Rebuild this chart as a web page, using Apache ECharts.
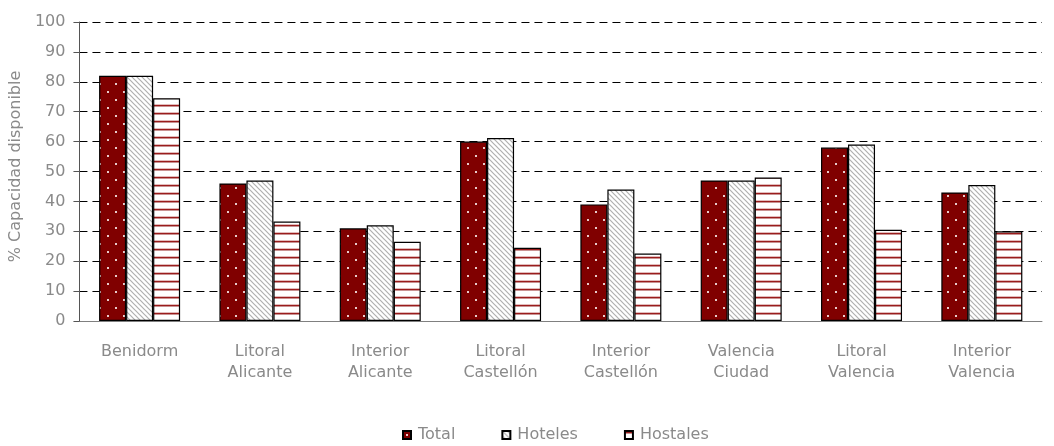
<!DOCTYPE html>
<html>
<head>
<meta charset="utf-8">
<style>
  html, body { margin: 0; padding: 0; background: #fff; }
  #chart { width: 1054px; height: 446px; }
</style>
<script src="https://cdn.jsdelivr.net/npm/echarts@6/dist/echarts.min.js"></script>
</head>
<body>
<div id="chart"></div>
<script>
// Zones and their share of available capacity (%)
const categories = [
  'Benidorm',
  'Litoral\nAlicante',
  'Interior\nAlicante',
  'Litoral\nCastellón',
  'Interior\nCastellón',
  'Valencia\nCiudad',
  'Litoral\nValencia',
  'Interior\nValencia'
];
const totalValues    = [82, 46, 31, 60, 39, 47, 58, 43];
const hotelesValues  = [82, 47, 32, 61.2, 44, 47, 59, 45.5];
const hostalesValues = [74.5, 33.3, 26.5, 24.5, 22.6, 48, 30.5, 30];
const seriesNames = ['Total', 'Hoteles', 'Hostales'];
const yTicks = { min: 0, max: 100, interval: 10 };

// Fill patterns drawn on small canvases and tiled over the bars
function makeTile(w, h, draw) {
  const c = document.createElement('canvas');
  c.width = w; c.height = h;
  draw(c.getContext('2d'));
  return { image: c, repeat: 'repeat' };
}

const dottedRed = makeTile(16, 16, ctx => {
  ctx.fillStyle = '#800000';
  ctx.fillRect(0, 0, 16, 16);
  ctx.fillStyle = '#e8cccc';
  ctx.fillRect(3, 3, 2, 2);
  ctx.fillRect(11, 11, 2, 2);
});

const diagonalGray = makeTile(5, 5, ctx => {
  ctx.fillStyle = '#ffffff';
  ctx.fillRect(0, 0, 5, 5);
  ctx.strokeStyle = '#b0b0b0';
  ctx.lineWidth = 1.2;
  ctx.beginPath();
  ctx.moveTo(-1, -1); ctx.lineTo(6, 6);
  ctx.moveTo(-1, 4); ctx.lineTo(1, 6);
  ctx.moveTo(4, -1); ctx.lineTo(6, 1);
  ctx.stroke();
});

const stripedRed = makeTile(8, 8, ctx => {
  ctx.fillStyle = '#ffffff';
  ctx.fillRect(0, 0, 8, 8);
  ctx.fillStyle = '#e2bcbc';
  ctx.fillRect(0, 0, 8, 1);
  ctx.fillStyle = '#9a1c1c';
  ctx.fillRect(0, 1, 8, 1);
  ctx.fillStyle = '#c99292';
  ctx.fillRect(0, 2, 8, 1);
});

const patterns = [dottedRed, diagonalGray, stripedRed];
const valueSets = [totalValues, hotelesValues, hostalesValues];

const labelFont = 'DejaVu Sans';
const textGray = '#8a8a8a';

const chart = echarts.init(document.getElementById('chart'), null, { renderer: 'canvas' });

chart.setOption({
  animation: false,
  backgroundColor: '#ffffff',
  grid: { left: 79, right: 12, top: 22, bottom: 125, containLabel: false },
  legend: {
    top: 427,
    left: 402,
    padding: 0,
    itemWidth: 8,
    itemHeight: 8,
    itemGap: 46,
    icon: 'rect',
    textStyle: { fontFamily: labelFont, fontSize: 16, color: textGray, padding: [0, 0, 0, 2] },
    data: seriesNames
  },
  xAxis: {
    type: 'category',
    data: categories,
    axisLine: { lineStyle: { color: '#808080', width: 1 } },
    axisTick: { length: 5, lineStyle: { color: '#808080' } },
    axisLabel: {
      fontFamily: labelFont,
      fontSize: 16,
      color: textGray,
      lineHeight: 21,
      margin: 20,
      interval: 0
    }
  },
  yAxis: {
    type: 'value',
    min: yTicks.min,
    max: yTicks.max,
    interval: yTicks.interval,
    name: '% Capacidad disponible',
    nameLocation: 'middle',
    nameGap: 52,
    nameTextStyle: { fontFamily: labelFont, fontSize: 16, color: textGray, padding: [0, 0, 0, 10] },
    axisLine: { show: true, lineStyle: { color: '#555555', width: 1 } },
    axisTick: { show: true, length: 6, lineStyle: { color: '#555555' } },
    axisLabel: { fontFamily: labelFont, fontSize: 16, color: textGray, margin: 14 },
    splitLine: { show: true, lineStyle: { color: '#000000', type: [8, 5], width: 1 } }
  },
  series: seriesNames.map((name, i) => ({
    name,
    type: 'bar',
    data: valueSets[i],
    barWidth: 27,
    barGap: '0%',
    itemStyle: { color: patterns[i], borderColor: '#000000', borderWidth: 1.2 }
  }))
});
</script>
</body>
</html>
